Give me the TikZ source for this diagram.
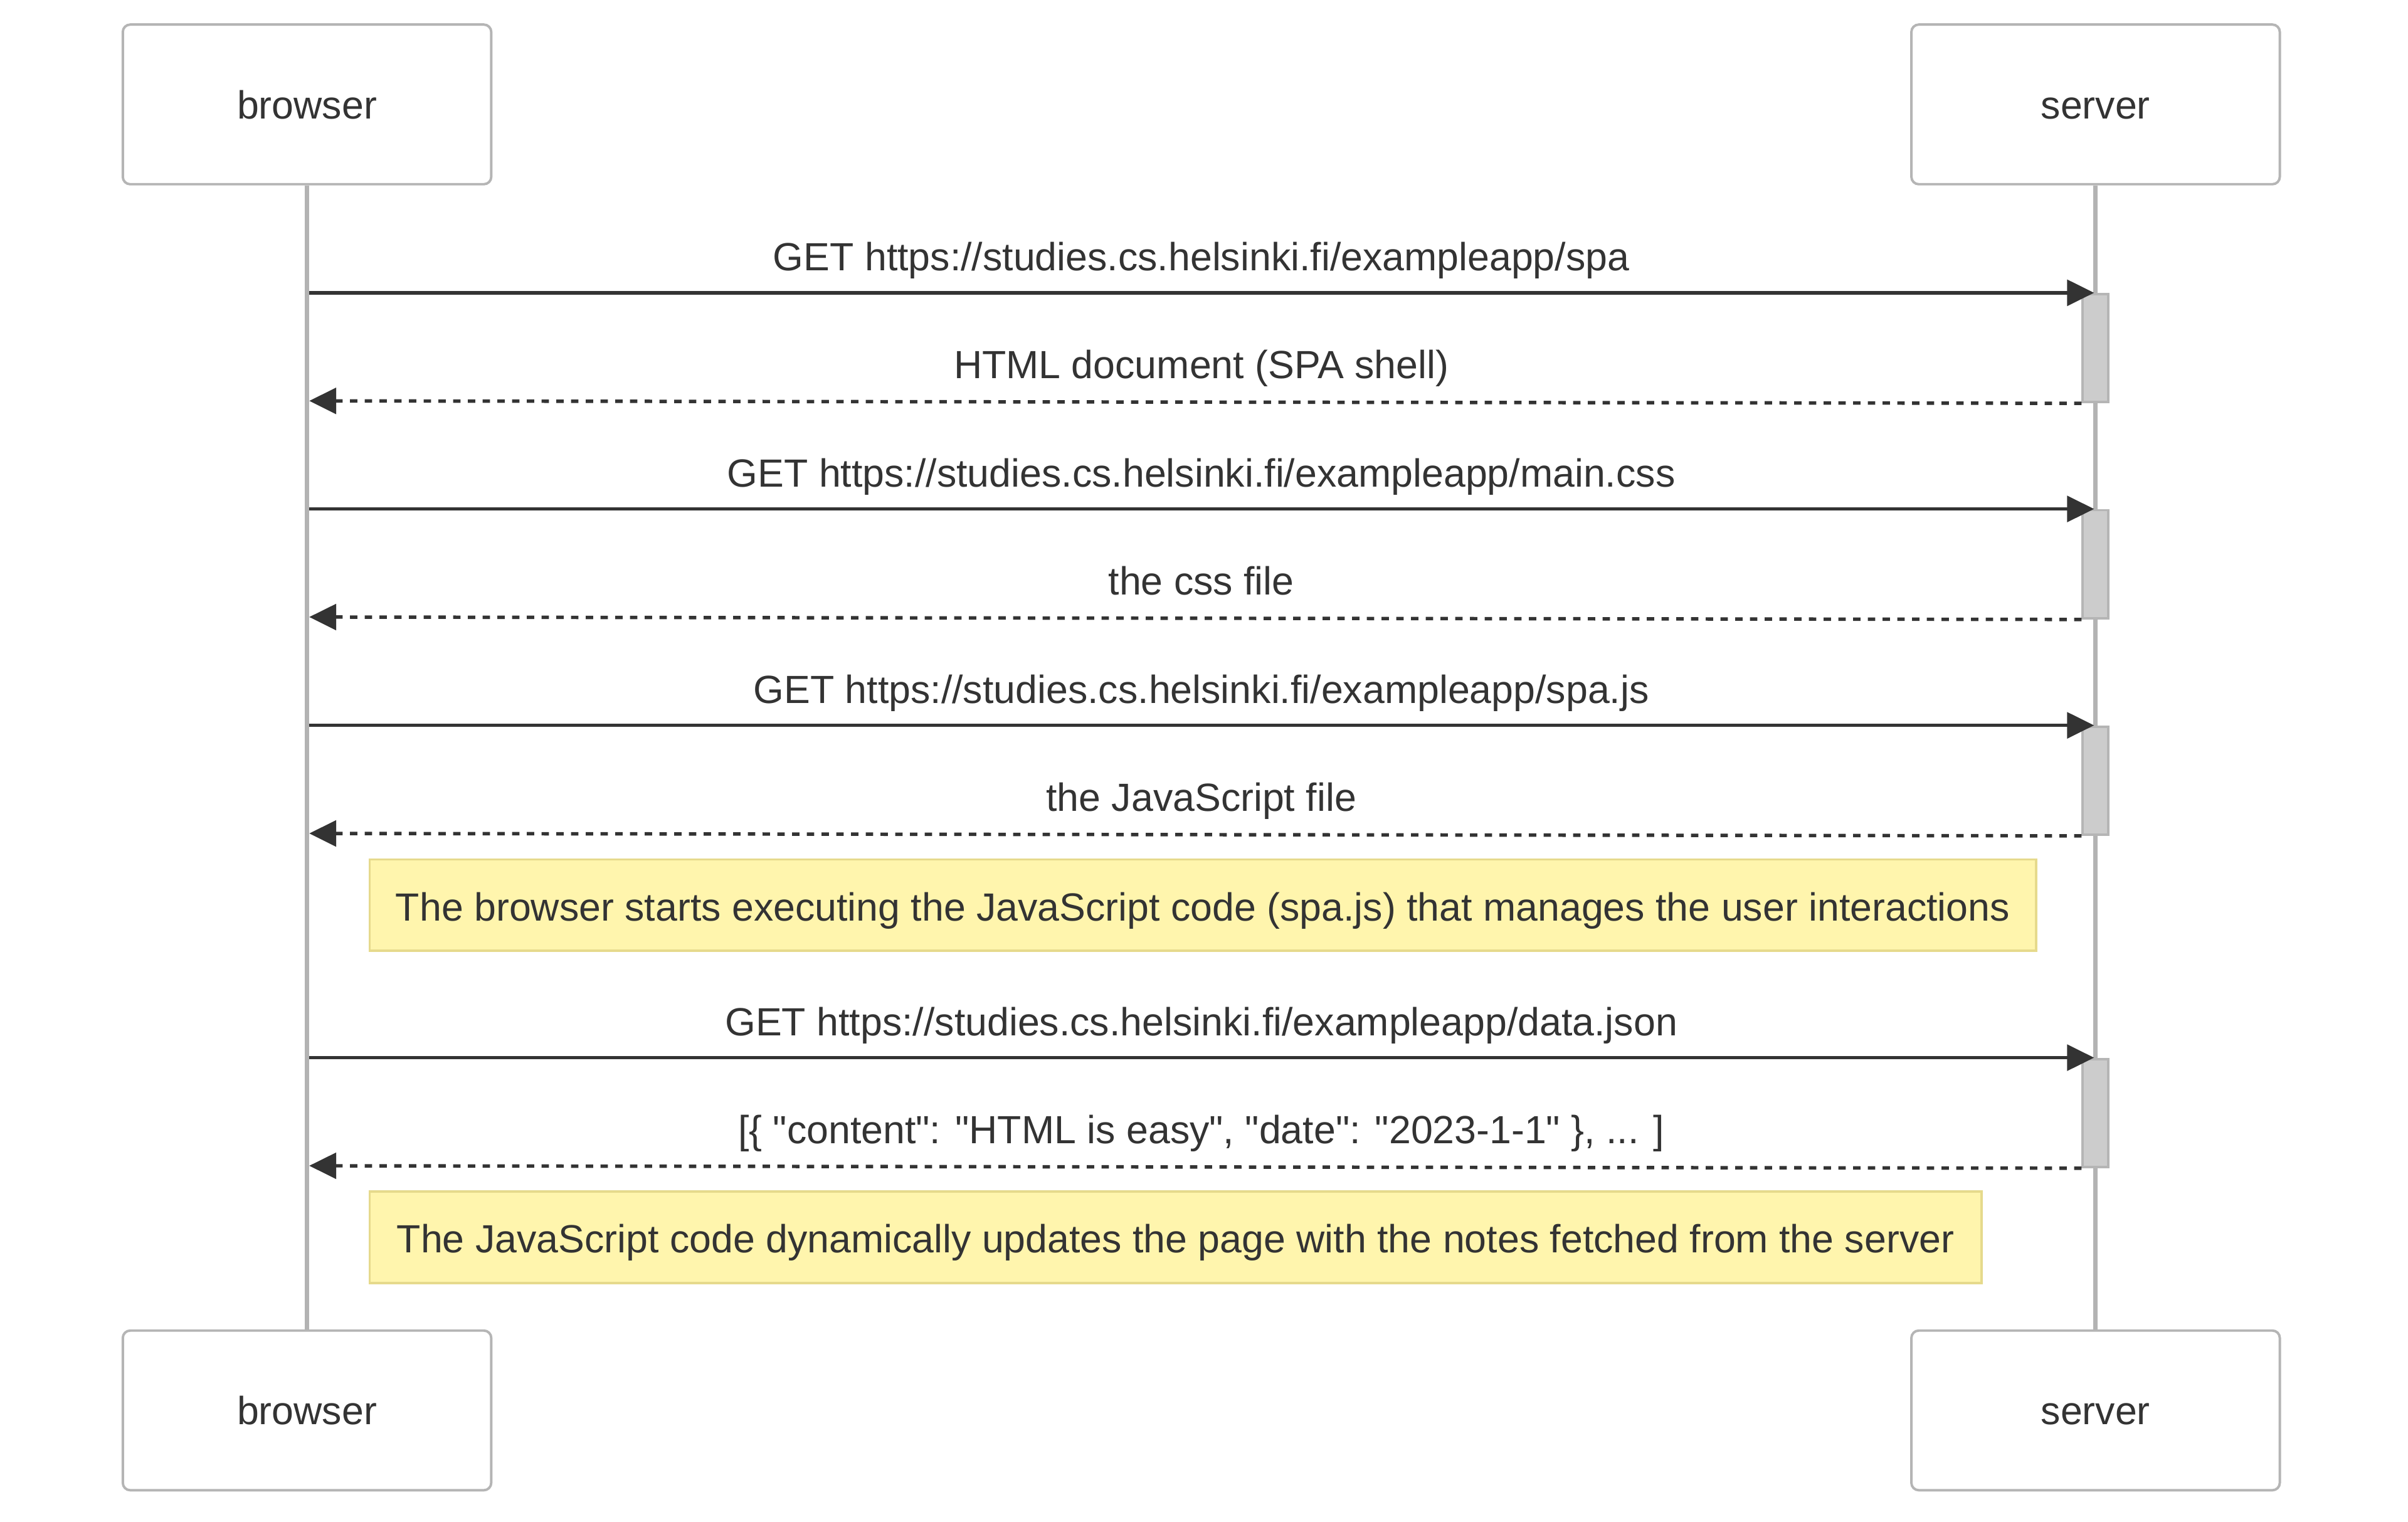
\documentclass[tikz,border=0pt]{standalone}
\usepackage{fontspec}
\newfontfamily\lbfont{Liberation Sans}
\usetikzlibrary{arrows.meta}
\definecolor{txt}{HTML}{333333}
\definecolor{actb}{HTML}{B5B5B5}
\definecolor{life}{HTML}{B3B3B3}
\definecolor{actfill}{HTML}{CCCCCC}
\definecolor{notefill}{HTML}{FFF5AD}
\definecolor{noteline}{HTML}{E6DA8C}
\begin{document}
\begin{tikzpicture}[x=1pt,y=-1pt,
  font=\lbfont\fontsize{16}{19}\selectfont, text=txt,
  actor/.style={draw=actb, line width=1pt, rounded corners=3pt, fill=white,
    minimum width=150pt, minimum height=65pt, inner sep=0pt,
    text height=11.7pt, text depth=0pt},
  lifeline/.style={draw=life, line width=1.8pt},
  activ/.style={draw=actb, fill=actfill, line width=1pt, minimum width=10.4pt,
    minimum height=44pt, inner sep=0pt, anchor=north},
  msg/.style={draw=txt, line width=1.4pt, -{Triangle[length=11pt,width=10.5pt]}},
  ret/.style={msg, dash pattern=on 3pt off 3pt},
  lbl/.style={anchor=base, inner sep=0pt},
  note/.style={draw=noteline, fill=notefill, line width=1pt, inner sep=0pt,
    anchor=north west, minimum height=37.2pt, text height=12.6pt, text depth=0pt}
]
\useasboundingbox (0,0) rectangle (980.4,619.4);

% actors
\node[actor] (bt) at (125,42.5) {browser};
\node[actor] (st) at (853.2,42.5) {server};
\node[actor] (bb) at (125,574.2) {browser};
\node[actor] (sb) at (853.2,574.2) {server};

% lifelines
\draw[lifeline] (bt.south) -- (bb.north);
\draw[lifeline] (st.south) -- (sb.north);

% activations
\node[activ] (a1) at (853.2,119.2) {};
\node[activ] (a2) at (853.2,207.2) {};
\node[activ] (a3) at (853.2,295.3) {};
\node[activ] (a4) at (853.2,430.6) {};

% endpoints
\coordinate (b1) at (125.9,119.2);
\coordinate (s1) at (852.6,119.2);
\coordinate (r1) at (125.9,163.2);
\coordinate (b2) at (125.9,207.2);
\coordinate (s2) at (852.6,207.2);
\coordinate (r2) at (125.9,251.2);
\coordinate (b3) at (125.9,295.3);
\coordinate (s3) at (852.6,295.3);
\coordinate (r3) at (125.9,339.3);
\coordinate (b4) at (125.9,430.6);
\coordinate (s4) at (852.6,430.6);
\coordinate (r4) at (125.9,474.6);

% messages
\draw[msg] (b1) -- (s1);
\draw[ret] (a1.south west) -- (r1);
\draw[msg] (b2) -- (s2);
\draw[ret] (a2.south west) -- (r2);
\draw[msg] (b3) -- (s3);
\draw[ret] (a3.south west) -- (r3);
\draw[msg] (b4) -- (s4);
\draw[ret] (a4.south west) -- (r4);

% labels
\node[lbl] (l1) at (489.1,110.2) {GET https://studies.cs.helsinki.fi/exampleapp/spa};
\node[lbl] (l2) at (489.1,154.2) {HTML document (SPA shell)};
\node[lbl] (l3) at (489.1,198.2) {GET https://studies.cs.helsinki.fi/exampleapp/main.css};
\node[lbl] (l4) at (489.1,242.2) {the css file};
\node[lbl] (l5) at (489.1,286.3) {GET https://studies.cs.helsinki.fi/exampleapp/spa.js};
\node[lbl] (l6) at (489.1,330.3) {the JavaScript file};
\node[lbl] (l7) at (489.1,421.6) {GET https://studies.cs.helsinki.fi/exampleapp/data.json};
\node[lbl] (l8) at (489.1,465.6) {[\{ "content": "HTML is easy", "date": "2023-1-1" \}, ... ]};

% notes
\node[note, minimum width=678.4pt] (n1) at (150,349.4)
  {The browser starts executing the JavaScript code (spa.js) that manages the user interactions};
\node[note, minimum width=656.2pt] (n2) at (150,484.6)
  {The JavaScript code dynamically updates the page with the notes fetched from the server};
\end{tikzpicture}
\end{document}
